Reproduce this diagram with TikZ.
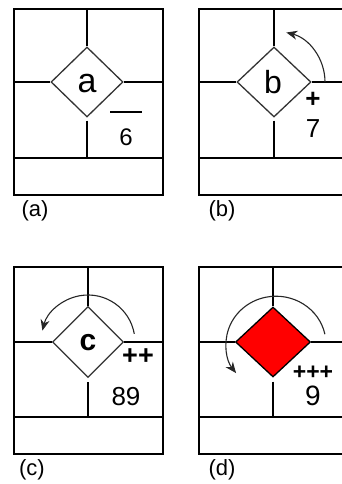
\documentclass[tikz,border=0pt]{standalone}
\usepackage{fontspec}
\setmainfont{Liberation Sans}
\usetikzlibrary{shapes.geometric,arrows.meta}
\tikzset{
  box/.style={line width=2.3pt,black},
  dia/.style={draw=black!80,line width=1.3pt,shape=diamond,inner sep=0pt},
  rot/.style={line width=1.1pt,black!85,-{Stealth[length=11pt,width=9pt]}},
  big/.style={font=\fontsize{32}{34}\selectfont},
  num/.style={font=\fontsize{26}{28}\selectfont},
  captxt/.style={font=\fontsize{22}{24}\selectfont}
}
\begin{document}
\begin{tikzpicture}[x=1pt,y=-1pt]
\clip (0,0) rectangle (342,484);
\fill[white] (0,0) rectangle (342,484);
% ---------- panel (a)
\coordinate (aTL) at (14,9);
\coordinate (aBR) at (163,195);
\coordinate (aBand) at (14,158);
\draw[box] (aTL) rectangle (aBR);
\draw[box] (aBand) -- (aBand -| aBR);
\node[dia,minimum width=72pt,minimum height=70pt] (da) at (87,82) {};
\draw[box] (da.north) -- (da.north |- aTL);
\draw[box] ([yshift=-3pt]da.south) -- (da.south |- aBand);
\draw[box] (da.west) -- (da.west -| aTL);
\draw[box] (da.east) -- (da.east -| aBR);
\node[big,font=\fontsize{34}{36}\selectfont] (ta) at (87,84) {a};
\coordinate (ol1) at (110,112);
\coordinate (ol2) at (142,112);
\draw[line width=2.3pt] (ol1) -- (ol2);
\node[num,font=\fontsize{24}{26}\selectfont] (na) at (126,137) {6};
\node[captxt] (la) at (35,211) {(a)};
% ---------- panel (b)
\coordinate (bTL) at (199,9);
\coordinate (bBR) at (360,195);
\coordinate (bBand) at (199,158);
\draw[box] (bTL) rectangle (bBR);
\draw[box] (bBand) -- (bBand -| bBR);
\node[dia,minimum width=74pt,minimum height=70pt] (db) at (274,82) {};
\draw[box] (db.north) -- (db.north |- bTL);
\draw[box] ([yshift=-3pt]db.south) -- (db.south |- bBand);
\draw[box] (db.west) -- (db.west -| bTL);
\draw[box] (db.east) -- (db.east -| bBR);
\node[big] (tb) at (273,82) {b};
\draw[rot] ([shift={(0:51pt)}]db.center) arc[start angle=0,end angle=76,radius=51pt];
\node[font=\bfseries\fontsize{26}{28}\selectfont] (pb) at (313,100) {+};
\node[num] (nb) at (313,129) {7};
\node[captxt] (lb) at (222,211) {(b)};
% ---------- panel (c)
\coordinate (cTL) at (14,267);
\coordinate (cBR) at (163,454);
\coordinate (cBand) at (14,417);
\draw[box] (cTL) rectangle (cBR);
\draw[box] (cBand) -- (cBand -| cBR);
\node[dia,minimum width=71pt,minimum height=71pt] (dc) at (88,342) {};
\draw[box] (dc.north) -- (dc.north |- cTL);
\draw[box] ([yshift=-4pt]dc.south) -- (dc.south |- cBand);
\draw[box] (dc.west) -- (dc.west -| cTL);
\draw[box] (dc.east) -- (dc.east -| cBR);
\node[big,font=\bfseries\fontsize{30}{32}\selectfont] (tc) at (88,343) {c};
\draw[rot] ([shift={(10:47pt)}]dc.center) arc[start angle=10,end angle=166,radius=47pt];
\node[font=\bfseries\fontsize{27}{29}\selectfont] (pc) at (138,357) {++};
\node[num] (nc) at (126,397) {89};
\node[captxt] (lc) at (32,470) {(c)};
% ---------- panel (d)
\coordinate (dTL) at (199,267);
\coordinate (dBR) at (360,454);
\coordinate (dBand) at (199,417);
\draw[box] (dTL) rectangle (dBR);
\draw[box] (dBand) -- (dBand -| dBR);
\node[dia,fill=red,draw=black,minimum width=75pt,minimum height=70pt] (dd) at (273,342) {};
\draw[box] (dd.north) -- (dd.north |- dTL);
\draw[box] ([yshift=-4pt]dd.south) -- (dd.south |- dBand);
\draw[box] (dd.west) -- (dd.west -| dTL);
\draw[box] (dd.east) -- (dd.east -| dBR);
\coordinate (dcen) at (276,344);
\draw[rot] ([shift={(12:50pt and 47pt)}]dcen) arc[start angle=12,end angle=217,x radius=50pt,y radius=48pt];
\node[inner sep=0pt,font=\bfseries\fontsize{23}{25}\selectfont] (pd) at (313,373) {+++};
\node[inner sep=0pt,num,font=\fontsize{28}{30}\selectfont] (nd) at (313,396) {9};
\node[captxt] (ld) at (222,470) {(d)};
\end{tikzpicture}
\end{document}
